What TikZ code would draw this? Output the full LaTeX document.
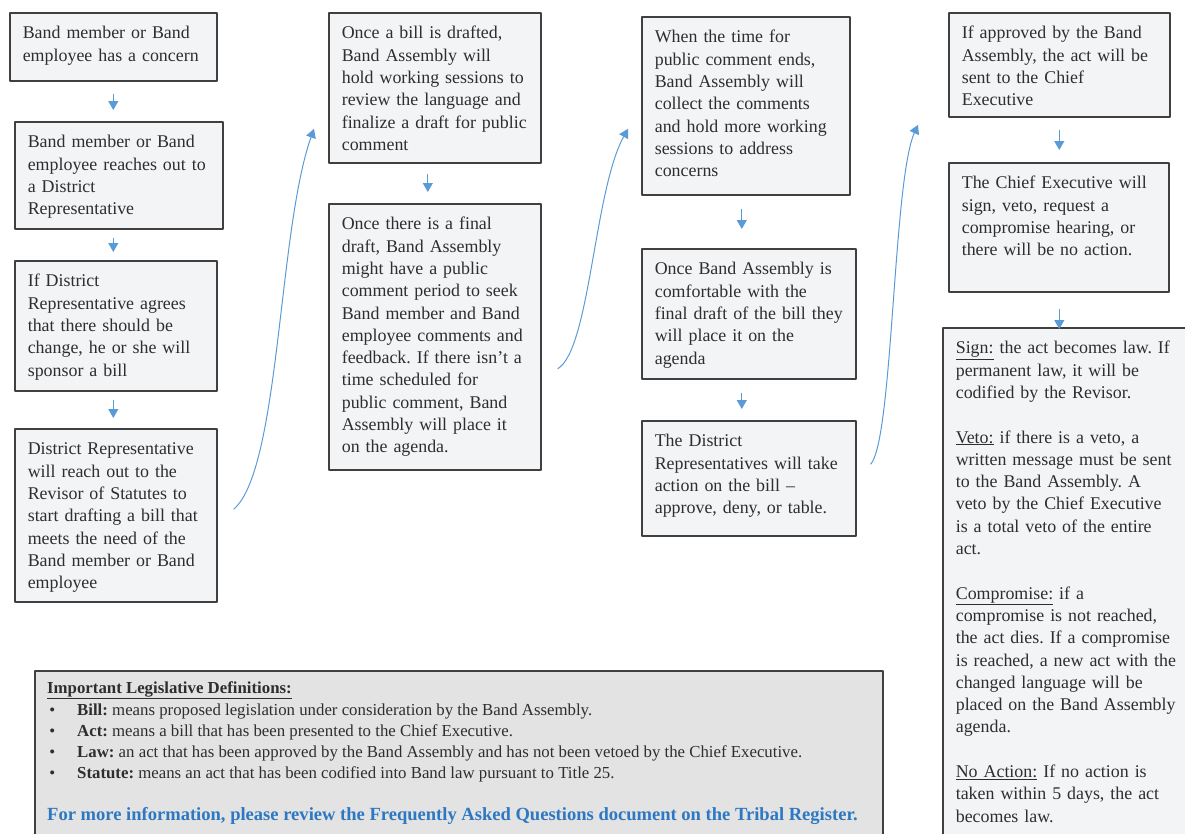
\documentclass[tikz,border=0pt]{standalone}
\usepackage{fontspec}
\setmainfont{Liberation Serif}
\usetikzlibrary{arrows.meta}
\definecolor{ink}{HTML}{2E2E2E}
\definecolor{boxline}{HTML}{404040}
\definecolor{boxfill}{HTML}{F3F4F5}
\definecolor{deffill}{HTML}{E3E3E3}
\definecolor{flowblue}{HTML}{5B9BD5}
\definecolor{linkblue}{HTML}{2E78C2}
\newcommand\boxfont{\fontsize{17.9pt}{22.3pt}\selectfont\frenchspacing}
\newcommand\deffont{\fontsize{16.8pt}{21.3pt}\selectfont\frenchspacing}
\tikzset{
  flowbox/.style={draw=boxline, fill=boxfill, line width=1.6pt, anchor=north west,
    inner xsep=13pt, inner ysep=11pt, text height=15pt, font=\boxfont, text=ink,
    execute at begin node={\rightskip=0pt minus 30pt}},
  flowarrow/.style={->, draw=flowblue, line width=1.1pt, shorten <=8pt, shorten >=8pt},
  flowcurve/.style={->, draw=flowblue, line width=1pt},
  defbox/.style={draw=boxline, fill=deffill, line width=1.6pt, anchor=north west, inner sep=0pt},
  defline/.style={anchor=base west, inner sep=0pt, font=\deffont, text=ink},
}
\begin{document}
\begin{tikzpicture}[x=1pt, y=-1pt, >={Triangle[length=9pt,width=10pt]}, line join=round]
\useasboundingbox (0,0) rectangle (1185,833);
% first column
\node[flowbox, text width=181pt, text depth=31pt] (concern) at (9,12)
  {Band member or Band\\employee has a concern};
\node[flowbox, text width=182pt, text depth=70pt] (reachout) at (14,121)
  {Band member or Band\\employee reaches out to\\a District\\Representative};
\node[flowbox, text width=176pt, text depth=93pt] (sponsor) at (14,260)
  {If District\\Representative agrees\\that there should be\\change, he or she will\\sponsor a bill};
\node[flowbox, text width=176pt, text depth=136pt] (revisor) at (14,428)
  {District Representative\\will reach out to the\\Revisor of Statutes to\\start drafting a bill that\\meets the need of the\\Band member or Band\\employee};
\draw[flowarrow, shorten <=12pt, shorten >=11pt] (concern.south) -- (reachout.north -| concern.south);
\draw[flowarrow] (reachout.south -| concern.south) -- (sponsor.north -| concern.south);
\draw[flowarrow, shorten >=10pt] (sponsor.south -| concern.south) -- (revisor.north -| concern.south);
% second column
\node[flowbox, text width=186pt, text depth=113pt] (drafted) at (328,12)
  {Once a bill is drafted,\\Band Assembly will\\hold working sessions to\\review the language and\\finalize a draft for public\\comment};
\node[flowbox, text width=186pt, text depth=229pt] (finaldraft) at (328,203)
  {Once there is a final\\draft, Band Assembly\\might have a public\\comment period to seek\\Band member and Band\\employee comments and\\feedback. If there isn’t a\\time scheduled for\\public comment, Band\\Assembly will place it\\on the agenda.};
\draw[flowarrow, shorten <=10pt, shorten >=11pt] ([xshift=-7pt]drafted.south) -- ([xshift=-7pt]drafted.south |- finaldraft.north);
% third column
\node[flowbox, text width=182pt, text depth=141pt] (comments) at (641,16)
  {When the time for\\public comment ends,\\Band Assembly will\\collect the comments\\and hold more working\\sessions to address\\concerns};
\node[flowbox, text width=188pt, text depth=93pt] (agenda) at (641,248)
  {Once Band Assembly is\\comfortable with the\\final draft of the bill they\\will place it on the\\agenda};
\node[flowbox, text width=188pt, text depth=78pt] (vote) at (641,420)
  {The District\\Representatives will take\\action on the bill –\\approve, deny, or table.};
\draw[flowarrow, shorten <=13pt, shorten >=19pt] ([xshift=-4pt]comments.south) -- ([xshift=-4pt]comments.south |- agenda.north);
\draw[flowarrow, shorten <=13pt, shorten >=11pt] ([xshift=-4pt]comments.south |- agenda.south) -- ([xshift=-4pt]comments.south |- vote.north);
% fourth column
\node[flowbox, text width=195pt, text depth=67pt] (chief) at (948,12)
  {If approved by the Band\\Assembly, the act will be\\sent to the Chief\\Executive};
\node[flowbox, text width=194pt, text depth=92pt] (decision) at (948,162)
  {The Chief Executive will\\sign, veto, request a\\compromise hearing, or\\there will be no action.};
\node[flowbox, text width=234pt, text depth=493pt] (outcomes) at (942,327)
  {\underline{Sign:} the act becomes law. If\\permanent law, it will be\\codified by the Revisor.\\[22.3pt]
   \underline{Veto:} if there is a veto, a\\written message must be sent\\to the Band Assembly. A\\veto by the Chief Executive\\is a total veto of the entire\\act.\\[22.3pt]
   \underline{Compromise:} if a\\compromise is not reached,\\the act dies. If a compromise\\is reached, a new act with the\\changed language will be\\placed on the Band Assembly\\agenda.\\[22.3pt]
   \underline{No Action:} If no action is\\taken within 5 days, the act\\becomes law.};
\draw[flowarrow, shorten <=12pt, shorten >=12pt] (chief.south) -- (chief.south |- decision.north);
\draw[flowarrow, shorten <=16pt, shorten >=-2pt] (chief.south |- decision.south) -- (chief.south |- outcomes.north);
% jumps between columns
\draw[flowcurve] ([shift={(16,-6)}]revisor.east) .. controls (280,470) and (278,230) .. ([shift={(-14,41)}]drafted.west);
\draw[flowcurve] ([shift={(16,32)}]finaldraft.east) .. controls (590,350) and (594,190) .. ([shift={(-13,23)}]comments.west);
\draw[flowcurve] ([shift={(14,-14)}]vote.east) .. controls (893,440) and (893,180) .. ([shift={(-30,60)}]chief.west);
% definitions
\node[defbox, minimum width=848pt, minimum height=200pt] (defs) at (34,670) {};
\node[defline] (deftitle) at (47,693) {\textbf{\underline{Important Legislative Definitions:}}};
\node[defline] (billdef) at (77,715) {\llap{\textbullet\hskip 22pt}\textbf{Bill:} means proposed legislation under consideration by the Band Assembly.};
\node[defline] (actdef) at (77,736) {\llap{\textbullet\hskip 22pt}\textbf{Act:} means a bill that has been presented to the Chief Executive.};
\node[defline] (lawdef) at (77,757) {\llap{\textbullet\hskip 22pt}\textbf{Law:} an act that has been approved by the Band Assembly and has not been vetoed by the Chief Executive.};
\node[defline] (statutedef) at (77,778) {\llap{\textbullet\hskip 22pt}\textbf{Statute:} means an act that has been codified into Band law pursuant to Title 25.};
\node[defline, text=linkblue, font=\fontsize{18.55pt}{22pt}\selectfont\frenchspacing\bfseries] (moreinfo) at (47,820) {For more information, please review the Frequently Asked Questions document on the Tribal Register.};
\end{tikzpicture}
\end{document}
